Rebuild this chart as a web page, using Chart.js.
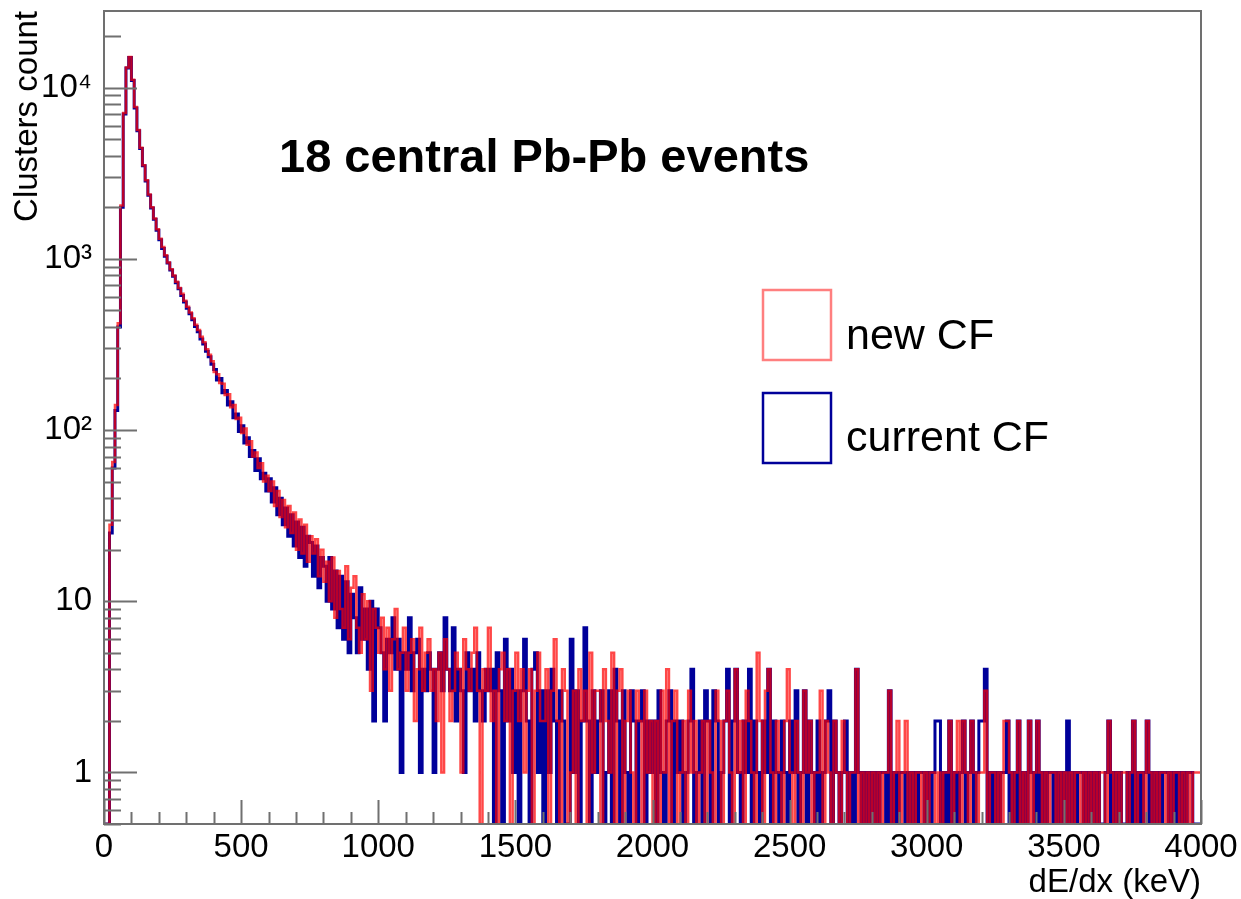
<!DOCTYPE html>
<html>
<head>
<meta charset="utf-8">
<title>dE/dx cluster spectrum</title>
<script src="https://cdn.jsdelivr.net/npm/chart.js@4.4.1/dist/chart.umd.min.js"></script>
<style>
  html, body { margin: 0; padding: 0; background: #fff; }
  #wrap { width: 1241px; height: 899px; }
</style>
</head>
<body>
<div id="wrap"><canvas id="chart" width="1241" height="899"></canvas></div>
<script>
"use strict";

// ── Binning (keV) ───────────────────────────────────────────────────────────
const BIN_LOW = 0;
const BIN_WIDTH = 10;

// ── Counts per bin, one row = 20 bins = 200 keV ─────────────────────────────
const currentCF = [
  0, 0, 25, 60, 130, 400, 2000, 7000, 13000, 15000, 11000, 7600, 5600, 4400, 3500, 2850, 2350, 1980, 1700, 1470,
  1290, 1150, 1035, 945, 860, 790, 725, 668, 610, 560, 515, 478, 440, 402, 375, 340, 318, 288, 268, 242,
  226, 196, 200, 165, 170, 140, 146, 118, 124, 98, 106, 84, 90, 70, 76, 58, 68, 52, 56, 44,
  52, 38, 46, 32, 40, 28, 35, 24, 32, 21, 29, 18, 27, 16, 24, 22, 14, 21, 12, 18,
  16, 10, 18, 9, 15, 7, 14, 6, 13, 5, 11, 8, 5, 12, 6, 9, 4, 10, 2, 9,
  7, 5, 2, 6, 5, 8, 4, 6, 1, 5, 4, 8, 3, 5, 6, 1, 4, 3, 5, 4,
  1, 4, 5, 3, 8, 4, 3, 7, 2, 4, 3, 1, 5, 3, 4, 2, 5, 3, 2, 4,
  3, 4, 0, 5, 3, 0, 6, 2, 4, 1, 3, 0, 3, 6, 2, 0, 4, 5, 1, 3,
  0, 3, 1, 4, 2, 0, 3, 2, 0, 0, 6, 1, 3, 0, 2, 7, 2, 0, 3, 1,
  2, 3, 0, 1, 3, 0, 4, 2, 0, 3, 1, 0, 3, 2, 0, 2, 3, 0, 2, 1,
  2, 0, 3, 1, 0, 2, 3, 0, 2, 1, 2, 0, 1, 2, 4, 0, 1, 2, 0, 3,
  2, 0, 3, 2, 0, 1, 2, 4, 0, 2, 4, 1, 0, 2, 1, 4, 0, 2, 1, 0,
  2, 1, 4, 0, 2, 1, 0, 2, 1, 0, 2, 1, 3, 0, 1, 3, 0, 2, 1, 0,
  2, 0, 1, 2, 3, 0, 2, 1, 0, 1, 2, 0, 1, 0, 4, 1, 0, 1, 0, 1,
  0, 1, 0, 1, 1, 0, 3, 0, 1, 0, 1, 1, 0, 1, 0, 1, 0, 1, 1, 0,
  1, 0, 1, 2, 2, 0, 1, 0, 2, 0, 1, 0, 1, 2, 0, 1, 2, 0, 1, 2,
  2, 4, 0, 1, 0, 1, 0, 1, 1, 2, 0, 1, 0, 2, 0, 1, 0, 2, 1, 0,
  2, 0, 1, 0, 1, 1, 0, 1, 0, 1, 0, 2, 0, 1, 0, 1, 1, 0, 1, 0,
  1, 0, 1, 0, 0, 1, 2, 0, 1, 0, 1, 0, 0, 1, 0, 2, 0, 1, 0, 1,
  2, 0, 1, 0, 1, 0, 1, 1, 0, 1, 0, 1, 0, 1, 0, 1, 1, 0, 0, 0,
];

const newCF = [
  0, 0, 28, 65, 140, 420, 2050, 7100, 13100, 15100, 11100, 7700, 5650, 4450, 3520, 2880, 2370, 2000, 1720, 1490,
  1310, 1170, 1050, 950, 870, 800, 735, 675, 625, 568, 525, 485, 450, 412, 384, 350, 326, 296, 275, 252,
  218, 212, 188, 186, 160, 162, 136, 140, 116, 118, 96, 102, 82, 86, 70, 74, 60, 64, 50, 54,
  44, 50, 36, 44, 31, 39, 27, 36, 25, 33, 20, 30, 19, 28, 17, 24, 19, 23, 14, 20,
  13, 17, 10, 18, 8, 15, 9, 7, 16, 6, 12, 14, 7, 5, 11, 6, 10, 3, 9, 7,
  5, 8, 4, 7, 3, 6, 9, 4, 5, 7, 3, 5, 6, 2, 4, 7, 3, 5, 6, 3,
  4, 2, 5, 1, 6, 4, 2, 3, 5, 4, 1, 6, 4, 3, 5, 7, 3, 0, 4, 3,
  7, 2, 3, 0, 4, 5, 2, 4, 0, 3, 5, 2, 4, 1, 3, 4, 0, 3, 5, 2,
  2, 4, 0, 3, 6, 2, 0, 4, 3, 0, 1, 3, 0, 4, 2, 3, 0, 5, 1, 3,
  3, 0, 4, 2, 1, 5, 0, 3, 4, 0, 2, 3, 1, 0, 3, 2, 0, 3, 1, 2,
  0, 2, 0, 3, 1, 4, 0, 2, 3, 0, 1, 2, 0, 3, 1, 2, 0, 1, 2, 0,
  2, 1, 0, 3, 2, 0, 2, 3, 1, 0, 4, 1, 2, 0, 3, 2, 1, 0, 5, 2,
  0, 3, 4, 1, 0, 2, 1, 0, 2, 4, 1, 0, 2, 1, 0, 3, 1, 2, 0, 1,
  1, 3, 0, 2, 1, 0, 2, 1, 0, 2, 1, 0, 1, 1, 4, 0, 1, 0, 1, 0,
  1, 0, 1, 0, 1, 1, 3, 0, 1, 2, 0, 1, 2, 0, 1, 0, 1, 1, 0, 1,
  0, 1, 1, 0, 1, 0, 1, 1, 2, 0, 1, 2, 0, 2, 1, 0, 2, 1, 0, 1,
  1, 3, 0, 1, 1, 0, 1, 0, 2, 2, 1, 0, 1, 2, 0, 1, 0, 2, 0, 1,
  2, 1, 0, 1, 0, 1, 1, 0, 1, 0, 1, 0, 1, 0, 1, 1, 0, 1, 0, 1,
  0, 1, 0, 1, 1, 0, 2, 1, 0, 1, 0, 1, 1, 0, 1, 2, 0, 1, 1, 0,
  2, 1, 0, 1, 0, 1, 1, 0, 1, 0, 1, 1, 0, 1, 0, 1, 0, 1, 1, 1,
];

// ── Axes ────────────────────────────────────────────────────────────────────
const X_MIN = 0;
const X_MAX = 4000;
const X_MAJOR = [0, 500, 1000, 1500, 2000, 2500, 3000, 3500, 4000];
const Y_MIN = 0.5;
const Y_MAX = 28000;
const Y_DECADES = [1, 10, 100, 1000, 10000];
const Y_DECADE_LABELS = ["1", "10", "10\u00B2", "10\u00B3", "10\u2074"];

const FONT = "'Liberation Sans', Arial, Helvetica, sans-serif";
const BLUE = "#00009a";
const RED = "rgba(255,0,0,0.72)";

// histogram -> step points at bin low edges (+ closing edge); empty bins go to the axis floor
function toSteps(counts) {
  const pts = counts.map((c, i) => ({ x: BIN_LOW + i * BIN_WIDTH, y: c > 0 ? c : Y_MIN }));
  pts.push({ x: BIN_LOW + counts.length * BIN_WIDTH, y: pts[pts.length - 1].y });
  return pts;
}

// ── ROOT-like frame, inward ticks, title and legend ────────────────────────
const rootFrame = {
  id: "rootFrame",
  afterDraw(chart) {
    const { ctx, chartArea: a, scales: { x, y } } = chart;
    ctx.save();
    ctx.strokeStyle = "#707070";
    ctx.lineWidth = 2;
    ctx.beginPath();
    // y ticks: decades long, 2..9 short
    [0.1, 1, 10, 100, 1000, 10000].forEach(dec => {
      for (let m = 1; m <= 9; m++) {
        const v = m * dec;
        if (v < Y_MIN || v > Y_MAX) continue;
        const py = Math.round(y.getPixelForValue(v)) + 0.5;
        ctx.moveTo(a.left, py);
        ctx.lineTo(a.left + (m === 1 ? 33 : 17), py);
      }
    });
    // x ticks every 100 keV, long every 500
    for (let v = X_MIN; v <= X_MAX; v += 100) {
      const px = Math.round(x.getPixelForValue(v)) + 0.5;
      ctx.moveTo(px, a.bottom);
      ctx.lineTo(px, a.bottom - (v % 500 === 0 ? 24 : 12));
    }
    ctx.stroke();
    ctx.strokeRect(a.left, a.top, a.right - a.left, a.bottom - a.top);

    // title text
    ctx.fillStyle = "#000";
    ctx.textBaseline = "alphabetic";
    ctx.textAlign = "left";
    ctx.font = "bold 47px " + FONT;
    ctx.fillText("18 central Pb-Pb events", 279, 172);

    // legend
    ctx.lineWidth = 2.5;
    ctx.strokeStyle = "rgba(255,0,0,0.5)";
    ctx.strokeRect(763, 290, 68, 70);
    ctx.strokeStyle = BLUE;
    ctx.strokeRect(763, 393, 68, 70);
    ctx.font = "43px " + FONT;
    ctx.fillText("new CF", 846, 349);
    ctx.fillText("current CF", 846, 451);
    ctx.restore();
  },
};

const ctx = document.getElementById("chart");
new Chart(ctx, {
  type: "line",
  data: {
    datasets: [
      {
        label: "new CF",
        data: toSteps(newCF),
        borderColor: RED,
        borderWidth: 2.5,
        stepped: true,
        pointRadius: 0,
        fill: false,
      },
      {
        label: "current CF",
        data: toSteps(currentCF),
        borderColor: BLUE,
        borderWidth: 3,
        stepped: true,
        pointRadius: 0,
        fill: false,
      },
    ],
  },
  options: {
    responsive: false,
    animation: false,
    devicePixelRatio: 1,
    layout: { padding: { left: 0, right: 40, top: 11, bottom: 0 } },
    plugins: {
      legend: { display: false },
      tooltip: { enabled: false },
    },
    scales: {
      x: {
        type: "linear",
        min: X_MIN,
        max: X_MAX,
        grid: { display: false, drawTicks: false },
        border: { display: false },
        afterBuildTicks: s => { s.ticks = X_MAJOR.map(v => ({ value: v })); },
        afterFit: s => { s.height = 75; s.paddingLeft = 0; s.paddingRight = 0; },
        ticks: {
          autoSkip: false,
          maxRotation: 0,
          padding: 7,
          color: "#000",
          font: { family: FONT, size: 33, lineHeight: 1 },
          callback: v => String(v),
        },
        title: {
          display: true,
          text: "dE/dx (keV)",
          align: "end",
          color: "#000",
          padding: { top: 0, bottom: 0 },
          font: { family: FONT, size: 33, lineHeight: 1 },
        },
      },
      y: {
        type: "logarithmic",
        min: Y_MIN,
        max: Y_MAX,
        grid: { display: false, drawTicks: false },
        border: { display: false },
        afterBuildTicks: s => { s.ticks = Y_DECADES.map(v => ({ value: v })); },
        afterFit: s => { s.width = 104; s.paddingTop = 0; s.paddingBottom = 0; },
        ticks: {
          autoSkip: false,
          padding: 12,
          color: "#000",
          font: { family: FONT, size: 33, lineHeight: 1 },
          callback: v => Y_DECADE_LABELS[Y_DECADES.indexOf(v)] || "",
        },
        title: {
          display: true,
          text: "Clusters count",
          align: "end",
          color: "#000",
          padding: { top: 11, bottom: 0 },
          font: { family: FONT, size: 33, lineHeight: 1 },
        },
      },
    },
  },
  plugins: [rootFrame],
});
</script>
</body>
</html>
